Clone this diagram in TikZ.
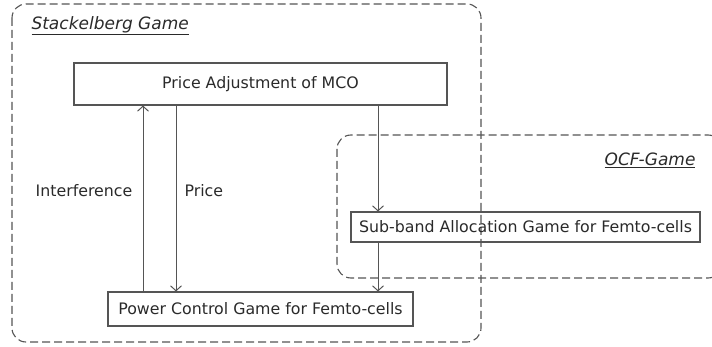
\documentclass[tikz,border=0pt]{standalone}
\usepackage{fontspec}
\setmainfont{DejaVu Sans}
\usetikzlibrary{arrows.meta}
\definecolor{linegray}{HTML}{555555}
\definecolor{txtgray}{HTML}{2A2A2A}
\begin{document}
\begin{tikzpicture}[x=1pt,y=-1pt,
  every node/.style={text=txtgray,font=\fontsize{15.8}{18}\selectfont},
  block/.style={draw=linegray,line width=1.1pt,minimum height=#1,inner sep=0pt},
  region/.style={draw=linegray,line width=1.1pt,dash pattern=on 8pt off 4pt,rounded corners=14pt},
  flow/.style={draw=linegray,line width=1pt,-{Straight Barb[length=5pt,width=11pt,line width=1pt]}},
  title/.style={font=\itshape\fontsize{17}{19}\selectfont}]
\useasboundingbox (0,0) rectangle (712,347);
% game regions
\draw[region] (12,4) rectangle (481,342);
\draw[region] (337,135) rectangle (722,278);
\node[title,anchor=west] (stk) at (28,26) {\underline{Stackelberg Game}};
\node[title,anchor=east] (ocf) at (699,160) {\underline{OCF-Game}};
% blocks
\node[block=42pt,minimum width=373pt] (mco) at (260.5,84) {Price Adjustment of MCO};
\node[block=30pt,minimum width=349pt] (sub) at (525.5,227) {Sub-band Allocation Game for Femto-cells};
\node[block=34pt,minimum width=305pt] (pow) at (260.5,309) {Power Control Game for Femto-cells};
% connectors
\coordinate (a1) at (143,0);
\coordinate (a2) at (176,0);
\coordinate (a3) at (378,0);
\draw[flow] (pow.north -| a1) -- (mco.south -| a1);
\draw[flow] (mco.south -| a2) -- (pow.north -| a2);
\draw[flow] (mco.south -| a3) -- (sub.north -| a3);
\draw[flow] (sub.south -| a3) -- (pow.north -| a3);
\node (intf) at (84,191) {Interference};
\node[anchor=west] (price) at (181,191) {Price};
\end{tikzpicture}
\end{document}
